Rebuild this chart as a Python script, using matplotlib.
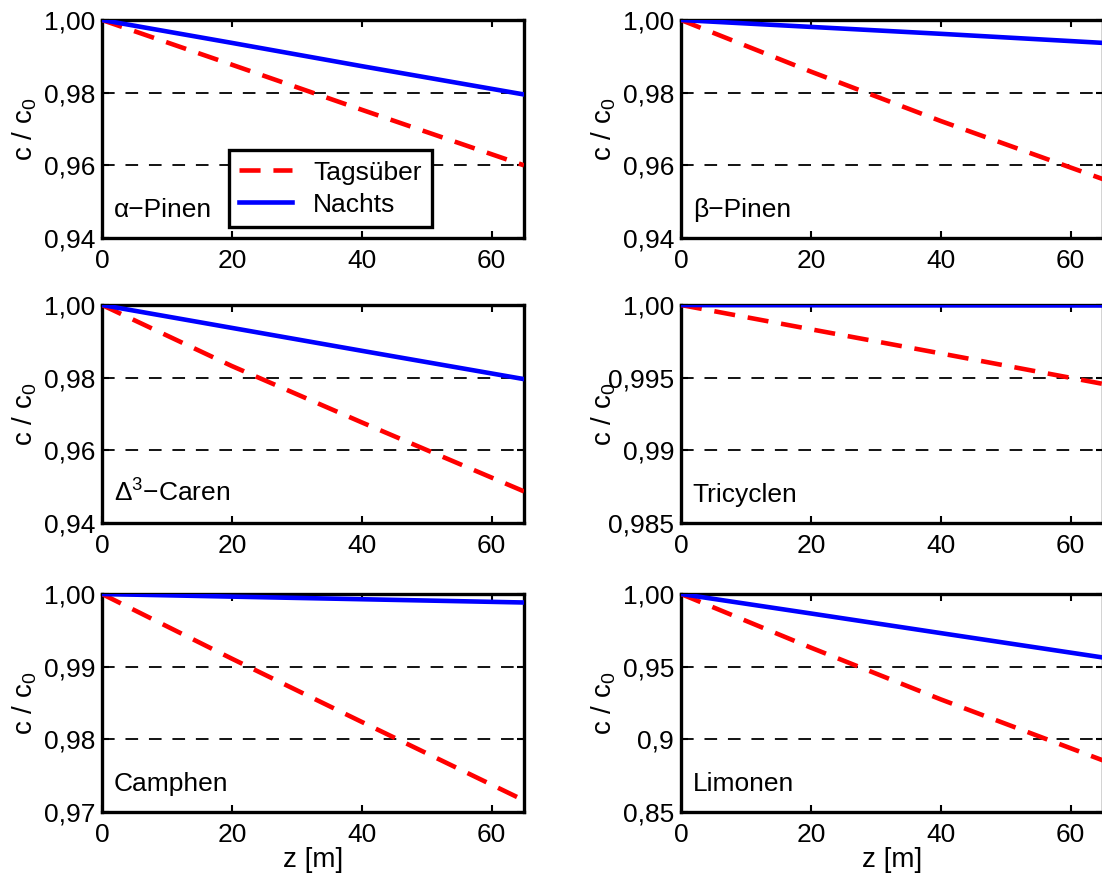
import matplotlib
matplotlib.use('Agg')
import matplotlib.pyplot as plt

plt.rcParams['font.family'] = ['Liberation Sans', 'DejaVu Sans']
plt.rcParams['mathtext.fontset'] = 'custom'
plt.rcParams['mathtext.rm'] = 'Liberation Sans'
plt.rcParams['mathtext.it'] = 'Liberation Sans:italic'
plt.rcParams['mathtext.default'] = 'regular'

# height above ground [m]
z = [0, 20, 40, 65]

names = ['α−Pinen', 'β−Pinen', 'Δ$^3$−Caren', 'Tricyclen', 'Camphen', 'Limonen']

# c / c0, daytime (Tagsüber) and night (Nachts)
tag = [
    [1.0, 0.9877, 0.9753, 0.9600],
    [1.0, 0.9858, 0.9722, 0.9562],
    [1.0, 0.9832, 0.9677, 0.9487],
    [1.0, 0.99833, 0.99667, 0.99457],
    [1.0, 0.9911, 0.9824, 0.9716],
    [1.0, 0.9631, 0.9275, 0.8855],
]
nacht = [
    [1.0, 0.9937, 0.9873, 0.9795],
    [1.0, 0.9981, 0.9962, 0.9937],
    [1.0, 0.9937, 0.9874, 0.9796],
    [1.0, 0.99999, 0.99998, 0.99997],
    [1.0, 0.99964, 0.99928, 0.99883],
    [1.0, 0.9866, 0.9731, 0.9563],
]

ylims = [(0.94, 1.0), (0.94, 1.0), (0.94, 1.0), (0.985, 1.0), (0.97, 1.0), (0.85, 1.0)]
yticks = [
    [0.94, 0.96, 0.98, 1.0],
    [0.94, 0.96, 0.98, 1.0],
    [0.94, 0.96, 0.98, 1.0],
    [0.985, 0.99, 0.995, 1.0],
    [0.97, 0.98, 0.99, 1.0],
    [0.85, 0.9, 0.95, 1.0],
]
ytlabels = [
    ['0,94', '0,96', '0,98', '1,00'],
    ['0,94', '0,96', '0,98', '1,00'],
    ['0,94', '0,96', '0,98', '1,00'],
    ['0,985', '0,99', '0,995', '1,00'],
    ['0,97', '0,98', '0,99', '1,00'],
    ['0,85', '0,9', '0,95', '1,00'],
]
xticks = [0, 20, 40, 60]

W, H = 1102, 881
fig = plt.figure(figsize=(W / 100, H / 100), dpi=100)

col_left = [102, 681]   # px
ax_w = 422
row_top = [20, 305, 594]
ax_h = 218

fs = 19

for i in range(6):
    r, c = i // 2, i % 2
    ax = fig.add_axes([col_left[c] / W, 1 - (row_top[r] + ax_h) / H, ax_w / W, ax_h / H])
    ax.plot(z, tag[i], color='#ff0000', lw=3.3, dashes=(4.6, 2.8), label='Tagsüber', zorder=3)
    ax.plot(z, nacht[i], color='#0000ff', lw=3.3, label='Nachts', zorder=3)
    ax.set_xlim(0, 65)
    ax.set_ylim(*ylims[i])
    ax.set_xticks(xticks)
    ax.set_yticks(yticks[i])
    ax.set_yticklabels(ytlabels[i])
    ax.yaxis.grid(True, color='k', lw=1.3, dashes=(7, 6))
    ax.tick_params(direction='in', top=True, right=True, length=5, width=1.5,
                   labelsize=fs)
    ax.tick_params(axis='x', pad=8)
    ax.tick_params(axis='y', pad=5)
    for s in ax.spines.values():
        s.set_linewidth(2.4)
    ax.set_ylabel('c / c$_0$', fontsize=fs + 1)
    ax.yaxis.set_label_coords(-0.15, 0.5)
    ax.text(0.028, 0.075, names[i], transform=ax.transAxes, fontsize=fs,
            ha='left', va='bottom')
    if r == 2:
        ax.set_xlabel('z [m]', fontsize=fs + 1, labelpad=0)
    if i == 0:
        leg = ax.legend(loc='lower left', bbox_to_anchor=(0.30, 0.05), fontsize=fs,
                        fancybox=False, framealpha=1, edgecolor='k',
                        handlelength=2.0, borderaxespad=0, borderpad=0.4,
                        labelspacing=0.3, handletextpad=0.8)
        leg.get_frame().set_linewidth(2.4)

fig.savefig('out.png', dpi=100)
